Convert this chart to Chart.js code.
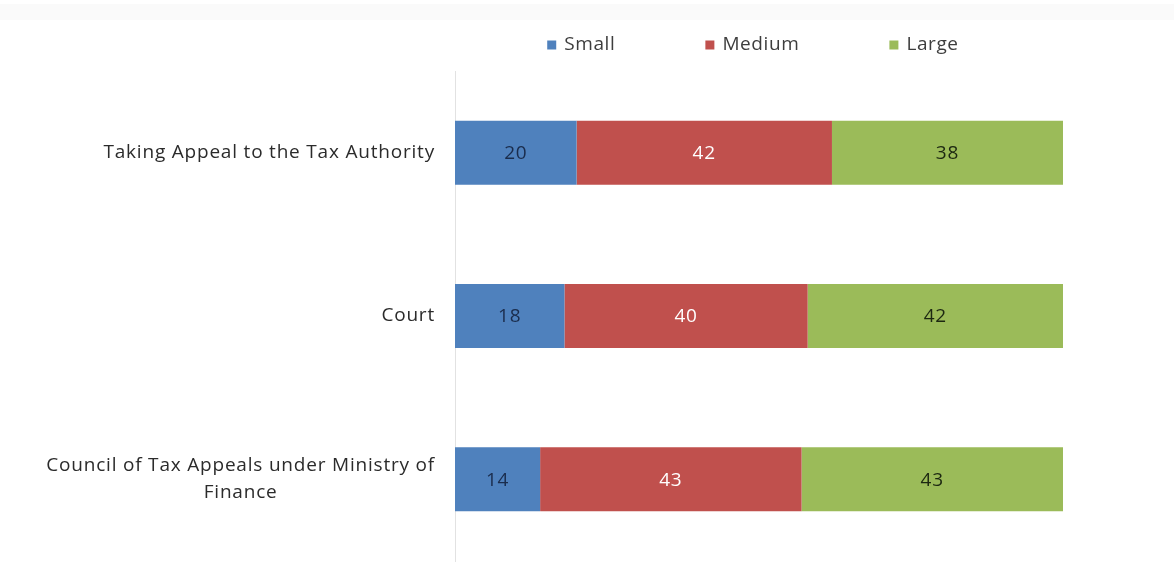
<!DOCTYPE html>
<html>
<head>
<meta charset="utf-8">
<title>Tax appeal channels by company size</title>
<script src="https://cdn.jsdelivr.net/npm/chart.js@4/dist/chart.umd.min.js"></script>
<style>
  html, body { margin: 0; padding: 0; background: #ffffff; }
  #wrap { position: relative; width: 1174px; height: 567px; }
</style>
</head>
<body>
<div id="wrap"><canvas id="chart"></canvas></div>
<script>
// Share of respondents (%) per appeal channel, split by company size
const categories = [
  'Taking Appeal to the Tax Authority',
  'Court',
  ['Council of Tax Appeals under Ministry of', 'Finance']
];
const seriesNames = ['Small', 'Medium', 'Large'];
const smallValues = [20, 18, 14];
const mediumValues = [42, 40, 43];
const largeValues = [38, 42, 43];

const seriesColors = ['#4F81BD', '#C0504D', '#9BBB59'];
const valueTextColors = ['#1a2c4c', '#ffffff', '#1c2711'];
const FONT = '"Open Sans", "DejaVu Sans", sans-serif';

// faint strip across the very top of the canvas
const topStrip = {
  id: 'topStrip',
  beforeDraw(chart) {
    const ctx = chart.ctx;
    ctx.save();
    ctx.fillStyle = '#fafafa';
    ctx.fillRect(0, 4, chart.width, 16);
    ctx.restore();
  }
};

// category names to the left of the bars: right-aligned block, lines centred within it
const categoryLabels = {
  id: 'categoryLabels',
  afterDraw(chart) {
    const ctx = chart.ctx;
    const yScale = chart.scales.y;
    const right = chart.chartArea.left - 20;
    const lineH = 27;
    ctx.save();
    ctx.font = '19px ' + FONT;
    ctx.letterSpacing = '0.8px';
    ctx.fillStyle = '#2b2b2b';
    ctx.textBaseline = 'middle';
    ctx.textAlign = 'center';
    categories.forEach((label, i) => {
      const lines = Array.isArray(label) ? label : [label];
      const widest = Math.max(...lines.map(l => ctx.measureText(l).width));
      const cx = right - widest / 2;
      const cy = yScale.getPixelForValue(i);
      lines.forEach((line, k) => {
        const y = cy + (k - (lines.length - 1) / 2) * lineH;
        ctx.fillText(line, cx, y);
      });
    });
    ctx.restore();
  }
};

// value printed in the middle of every segment
const segmentValues = {
  id: 'segmentValues',
  afterDatasetsDraw(chart) {
    const ctx = chart.ctx;
    ctx.save();
    ctx.font = '19px ' + FONT;
    ctx.letterSpacing = '0.8px';
    ctx.textAlign = 'center';
    ctx.textBaseline = 'middle';
    chart.data.datasets.forEach((ds, di) => {
      const meta = chart.getDatasetMeta(di);
      ctx.fillStyle = valueTextColors[di];
      meta.data.forEach((el, j) => {
        const p = el.getProps(['x', 'y', 'base'], true);
        ctx.fillText(String(ds.data[j]), (p.x + p.base) / 2, p.y + 1);
      });
    });
    ctx.restore();
  }
};

// series key above the plot
const seriesKey = {
  id: 'seriesKey',
  afterDraw(chart) {
    const ctx = chart.ctx;
    const box = 9, textGap = 8, itemGap = 90;
    ctx.save();
    ctx.font = '19px ' + FONT;
    ctx.letterSpacing = '0.6px';
    ctx.textBaseline = 'middle';
    ctx.textAlign = 'left';
    const items = chart.data.datasets.map(ds => ({
      text: ds.label, color: ds.backgroundColor,
      w: box + textGap + ctx.measureText(ds.label).width
    }));
    const total = items.reduce((s, it) => s + it.w, 0) + itemGap * (items.length - 1);
    const centre = chart.chartArea.left + (chart.chartArea.right - chart.chartArea.left) * 0.49;
    let x = centre - total / 2;
    const y = 45;
    items.forEach(it => {
      ctx.fillStyle = it.color;
      ctx.fillRect(x, y - box / 2, box, box);
      ctx.fillStyle = '#3d3d3d';
      ctx.fillText(it.text, x + box + textGap, y);
      x += it.w + itemGap;
    });
    ctx.restore();
  }
};

const valueSets = [smallValues, mediumValues, largeValues];

new Chart(document.getElementById('chart'), {
  type: 'bar',
  data: {
    labels: categories,
    datasets: seriesNames.map((name, i) => ({
      label: name,
      data: valueSets[i],
      backgroundColor: seriesColors[i],
      borderWidth: 0,
      categoryPercentage: 1,
      barPercentage: 0.392
    }))
  },
  options: {
    indexAxis: 'y',
    responsive: true,
    maintainAspectRatio: false,
    animation: false,
    layout: { padding: { left: 455, right: 111, top: 71, bottom: 6 } },
    plugins: {
      legend: { display: false },
      tooltip: { enabled: false }
    },
    scales: {
      x: {
        stacked: true,
        min: 0,
        max: 100,
        display: false
      },
      y: {
        stacked: true,
        ticks: { display: false },
        grid: { display: false, drawTicks: false },
        border: { display: true, color: '#e2e2e2', width: 1 }
      }
    }
  },
  plugins: [topStrip, categoryLabels, segmentValues, seriesKey]
});
</script>
</body>
</html>
